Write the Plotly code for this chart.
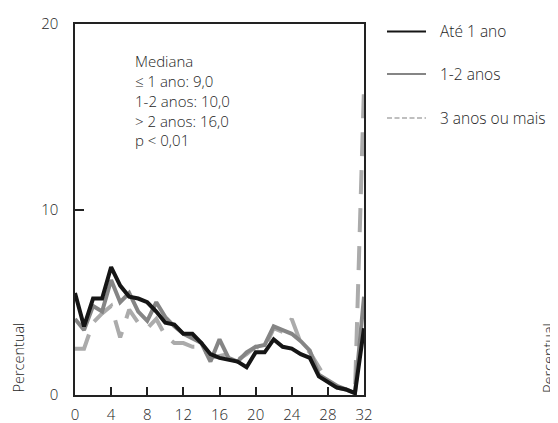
import plotly.graph_objects as go

# ---- data ----
meses = list(range(0, 33))
ate_1_ano = [5.5, 3.7, 5.2, 5.2, 6.9, 5.9, 5.3, 5.2, 5.0, 4.5, 3.9, 3.8, 3.3, 3.3, 2.8, 2.2, 2.0,
             1.9, 1.8, 1.5, 2.3, 2.3, 3.0, 2.6, 2.5, 2.2, 2.0, 1.0, 0.7, 0.4, 0.3, 0.1, 3.6]
anos_1_2 = [4.1, 3.5, 4.8, 4.5, 6.2, 5.0, 5.5, 4.5, 4.0, 5.0, 4.2, 3.7, 3.3, 3.05, 2.8, 1.8, 3.0,
            2.0, 1.8, 2.3, 2.6, 2.7, 3.7, 3.5, 3.3, 2.9, 2.4, 1.1, 0.8, 0.5, 0.3, 0.1, 5.3]
anos_3_mais = [2.5, 2.5, 3.9, 4.4, 4.8, 3.1, 4.6, 3.9, 3.6, 4.1, 3.2, 2.8, 2.8, 2.6, 2.6, 2.0, 2.1,
               2.2, 1.9, 2.2, 2.6, 2.5, 3.6, 3.4, 4.1, 2.8, 2.3, 1.5, 0.7, 0.4, 0.3, 0.1, 16.6]
series_names = ["Até 1 ano", "1-2 anos", "3 anos ou mais"]
x_ticks = [0, 4, 8, 12, 16, 20, 24, 28, 32]
y_ticks = [0, 10, 20]
note_lines = ["Mediana", "≤ 1 ano: 9,0", "1-2 anos: 10,0", "> 2 anos: 16,0", "p < 0,01"]

FONT = "Open Sans"
WGT = 300
TXT = "#1e1e1e"
C_BLACK = "#151515"
C_GRAY = "#858585"
C_LIGHT = "#ababab"

fig = go.Figure()
fig.add_trace(go.Scatter(x=meses, y=anos_3_mais, mode="lines", name=series_names[2],
                         line=dict(color=C_LIGHT, width=4, dash="24px,14px"), showlegend=False))
fig.add_trace(go.Scatter(x=meses, y=anos_1_2, mode="lines", name=series_names[1],
                         line=dict(color=C_GRAY, width=4), showlegend=False))
fig.add_trace(go.Scatter(x=meses, y=ate_1_ano, mode="lines", name=series_names[0],
                         line=dict(color=C_BLACK, width=4), showlegend=False))

# page body has an 8px default margin: compensate
OFF = 8
W, H = 558 - OFF, 423 - OFF
L, T = 75 - OFF, 24 - OFF
R = W - (364 - OFF)
B = H - (395 - OFF)
pw, ph = W - L - R, H - T - B

def px2x(px):
    return (px - OFF - L) / pw

def py2y(py):
    return (H - B - (py - OFF)) / ph

def f(size):
    return dict(family=FONT, size=size, color=TXT, weight=WGT)

# Manual legend
leg_y = [31.5, 74, 118]
leg_styles = [dict(color=C_BLACK, width=2.2), dict(color=C_GRAY, width=2.2),
              dict(color=C_LIGHT, width=1.6, dash="5px,2.5px")]
shapes = []
annotations = []
for name, yy, st in zip(series_names, leg_y, leg_styles):
    shapes.append(dict(type="line", xref="paper", yref="paper",
                       x0=px2x(387), x1=px2x(426), y0=py2y(yy), y1=py2y(yy), line=st))
    annotations.append(dict(text=name, xref="paper", yref="paper", x=px2x(438), y=py2y(yy),
                            xanchor="left", yanchor="middle", showarrow=False, font=f(15.5)))

# Note text
note_y = [61, 81, 101, 120.5, 139.5]
for t, yy in zip(note_lines, note_y):
    annotations.append(dict(text=t, xref="paper", yref="paper", x=px2x(133), y=py2y(yy),
                            xanchor="left", yanchor="middle", showarrow=False, font=f(15)))

# y-axis titles (left and cut-off right panel)
annotations.append(dict(text="Percentual", xref="paper", yref="paper", x=px2x(17.5), y=py2y(358),
                        xanchor="center", yanchor="middle", textangle=-90, showarrow=False,
                        font=f(14.5)))
annotations.append(dict(text="Percentual", xref="paper", yref="paper", x=px2x(548), y=py2y(358),
                        xanchor="center", yanchor="middle", textangle=-90, showarrow=False,
                        font=f(14.5)))

fig.update_layout(
    width=W, height=H,
    margin=dict(l=L, r=R, t=T, b=B, pad=0, autoexpand=False),
    paper_bgcolor="white", plot_bgcolor="white",
    font=f(14),
    shapes=shapes, annotations=annotations,
    showlegend=False,
)
fig.update_xaxes(range=[0, 32], tickvals=x_ticks, ticks="inside", ticklen=8, tickwidth=1.5,
                 tickcolor="#222", showline=True, linecolor="#222", linewidth=1.5, mirror=True,
                 showgrid=False, zeroline=False, ticklabelstandoff=5, automargin=False,
                 tickfont=f(15))
fig.update_yaxes(range=[0, 20], tickvals=y_ticks, ticks="inside", ticklen=9, tickwidth=1.5,
                 tickcolor="#222", showline=True, linecolor="#222", linewidth=1.5, mirror=True,
                 showgrid=False, zeroline=False, ticklabelstandoff=12, automargin=False,
                 tickfont=f(15))

fig.write_html("out.html")
